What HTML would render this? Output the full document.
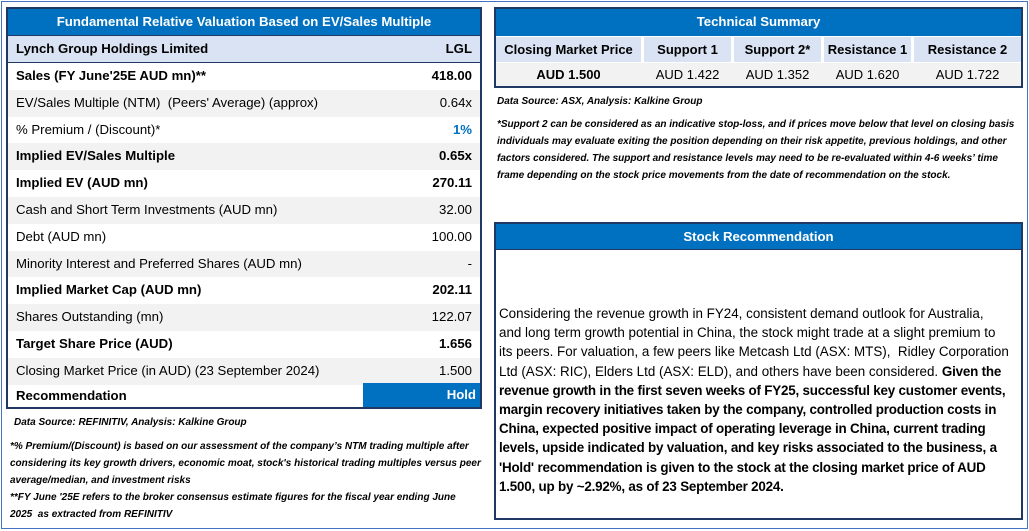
<!DOCTYPE html>
<html><head><meta charset="utf-8"><style>
*{margin:0;padding:0;box-sizing:border-box}
body{width:1029px;height:531px;background:#fff;font-family:"Liberation Sans",sans-serif;position:relative;overflow:hidden;color:#000}
.abs{position:absolute}
.frame{left:1px;top:1px;width:1027px;height:528px;border:1px solid #4472c4}
.hdr{background:#0070c0;color:#fff;font-weight:bold;font-size:13.2px;text-align:center;line-height:26px}
.row{position:absolute;left:0;width:100%;height:26.8px;line-height:26.8px;font-size:13.2px;padding:0 8px}
.row .v{position:absolute;right:8px;top:0}
.b{font-weight:bold}
.g{background:#f2f2f2}
.note{font-size:10px;font-style:italic;font-weight:bold;line-height:17px;white-space:nowrap}
.tcell{position:absolute;text-align:center;font-size:13px}
.para{font-size:13.4px;line-height:19.2px;white-space:nowrap}
</style></head><body>
<div class="abs frame"></div>

<div class="abs" style="left:6px;top:7px;width:476px;height:402px;border:2px solid #1f3864">
  <div class="abs hdr" style="left:0;top:0;width:100%;height:27px;border-bottom:1px solid #1f3864">Fundamental Relative Valuation Based on EV/Sales Multiple</div>
  <div class="row b" style="top:27px;background:#dae3f3;border-bottom:1px solid #1f3864">Lynch Group Holdings Limited<span class="v">LGL</span></div>
  <div class="row b" style="top:54px">Sales (FY June'25E AUD mn)**<span class="v">418.00</span></div>
  <div class="row g" style="top:80.8px">EV/Sales Multiple (NTM)&nbsp; (Peers' Average) (approx)<span class="v">0.64x</span></div>
  <div class="row" style="top:107.6px">% Premium / (Discount)*<span class="v" style="color:#0070c0;font-weight:bold">1%</span></div>
  <div class="row b g" style="top:134.4px">Implied EV/Sales Multiple<span class="v">0.65x</span></div>
  <div class="row b" style="top:161.2px">Implied EV (AUD mn)<span class="v">270.11</span></div>
  <div class="row g" style="top:188px">Cash and Short Term Investments (AUD mn)<span class="v">32.00</span></div>
  <div class="row" style="top:214.8px">Debt (AUD mn)<span class="v">100.00</span></div>
  <div class="row g" style="top:241.6px">Minority Interest and Preferred Shares (AUD mn)<span class="v">-</span></div>
  <div class="row b" style="top:268.4px">Implied Market Cap (AUD mn)<span class="v">202.11</span></div>
  <div class="row g" style="top:295.2px">Shares Outstanding (mn)<span class="v">122.07</span></div>
  <div class="row b" style="top:322px">Target Share Price (AUD)<span class="v">1.656</span></div>
  <div class="row g" style="top:348.8px">Closing Market Price (in AUD) (23 September 2024)<span class="v">1.500</span></div>
  <div class="row b" style="top:375px;height:23px;line-height:23px">Recommendation</div>
  <div class="abs b" style="left:355px;top:374px;width:117px;height:24px;background:#0070c0;color:#fff;font-size:13.2px;line-height:24px;text-align:right;padding-right:4px">Hold</div>
</div>
<div class="abs note" style="left:14px;top:414px">Data Source: REFINITIV, Analysis: Kalkine Group</div>
<div class="abs note" style="left:10px;top:438px">*% Premium/(Discount) is based on our assessment of the company’s NTM trading multiple after<br>considering its key growth drivers, economic moat, stock's historical trading multiples versus peer<br>average/median, and investment risks</div>
<div class="abs note" style="left:10px;top:489px">**FY June '25E refers to the broker consensus estimate figures for the fiscal year ending June<br>2025&nbsp; as extracted from REFINITIV</div>

<div class="abs" style="left:494px;top:7px;width:529px;height:81px;border:2px solid #1f3864">
  <div class="abs hdr" style="left:0;top:0;width:100%;height:27px">Technical Summary</div>
  <div class="abs" style="left:0;top:27px;width:100%;height:27px;background:#fff"></div>
  <div class="tcell b" style="left:0;top:28px;width:145px;height:25px;line-height:25px;background:#dae3f3">Closing Market Price</div>
  <div class="tcell b" style="left:148px;top:28px;width:87px;height:25px;line-height:25px;background:#dae3f3">Support 1</div>
  <div class="tcell b" style="left:238px;top:28px;width:87px;height:25px;line-height:25px;background:#dae3f3">Support 2*</div>
  <div class="tcell b" style="left:328px;top:28px;width:87px;height:25px;line-height:25px;background:#dae3f3">Resistance 1</div>
  <div class="tcell b" style="left:418px;top:28px;width:107px;height:25px;line-height:25px;background:#dae3f3">Resistance 2</div>
  <div class="abs" style="left:0;top:54px;width:100%;height:23px;background:#f2f2f2"></div>
  <div class="tcell b" style="left:0;top:54px;width:145px;line-height:23px">AUD 1.500</div>
  <div class="tcell" style="left:148px;top:54px;width:87px;line-height:23px">AUD 1.422</div>
  <div class="tcell" style="left:238px;top:54px;width:87px;line-height:23px">AUD 1.352</div>
  <div class="tcell" style="left:328px;top:54px;width:87px;line-height:23px">AUD 1.620</div>
  <div class="tcell" style="left:418px;top:54px;width:107px;line-height:23px">AUD 1.722</div>
</div>
<div class="abs note" style="left:497px;top:93px">Data Source: ASX, Analysis: Kalkine Group</div>
<div class="abs note" style="left:497px;top:116px;font-size:10px">*Support 2 can be considered as an indicative stop-loss, and if prices move below that level on closing basis<br>individuals may evaluate exiting the position depending on their risk appetite, previous holdings, and other<br>factors considered. The support and resistance levels may need to be re-evaluated within 4-6 weeks’ time<br>frame depending on the stock price movements from the date of recommendation on the stock.</div>

<div class="abs" style="left:494px;top:222px;width:529px;height:298px;border:2px solid #1f3864">
  <div class="abs hdr" style="left:0;top:0;width:100%;height:26px;border-bottom:1px solid #1f3864">Stock Recommendation</div>
  <div class="abs para" style="left:3px;top:80px">Considering the revenue growth in FY24, consistent demand outlook for Australia,<br>and long term growth potential in China, the stock might trade at a slight premium to<br>its peers. For valuation, a few peers like Metcash Ltd (ASX: MTS),&nbsp; Ridley Corporation<br>Ltd (ASX: RIC), Elders Ltd (ASX: ELD), and others have been considered. <b style="letter-spacing:-0.2px">Given the</b><br><b style="letter-spacing:-0.2px">revenue growth in the first seven weeks of FY25, successful key customer events,</b><br><b style="letter-spacing:-0.2px">margin recovery initiatives taken by the company, controlled production costs in</b><br><b style="letter-spacing:-0.2px">China, expected positive impact of operating leverage in China, current trading</b><br><b style="letter-spacing:-0.2px">levels, upside indicated by valuation, and key risks associated to the business, a</b><br><b style="letter-spacing:-0.2px">'Hold' recommendation is given to the stock at the closing market price of AUD</b><br><b style="letter-spacing:-0.2px">1.500, up by ~2.92%, as of 23 September 2024.</b></div>
</div>
</body></html>
